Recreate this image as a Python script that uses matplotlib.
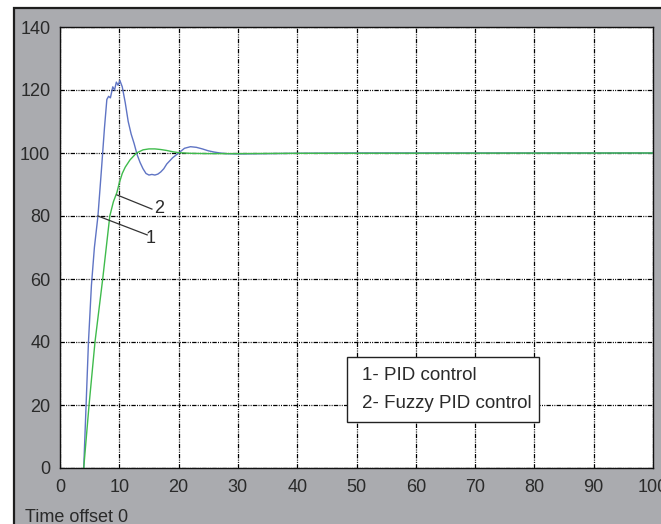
import numpy as np
import matplotlib
matplotlib.use("Agg")
import matplotlib.pyplot as plt
from matplotlib.patches import Rectangle

# Step response: time (s) and output value
pidTime = [4.0, 4.4, 4.8, 5.3, 5.8, 6.4, 7.0, 7.5, 7.9, 8.2, 8.5, 8.9, 9.2, 9.5,
           9.8, 10.1, 10.5, 11.0, 11.5, 12.0, 12.5, 13.0, 13.5, 14.0, 14.5, 15.0,
           15.5, 16.0, 16.5, 17.0, 17.5, 18.0, 18.5, 19.0, 20.0, 21.0, 22.0, 23.0,
           24.0, 25.0, 26.0, 27.0, 28.0, 30.0, 35.0, 40.0, 50.0, 100.0]
pidValue = [0, 20, 40, 58, 70, 80, 95, 108, 117, 118, 117.5, 121, 120, 122.5,
            121.5, 123, 121, 116, 110, 106, 103, 99.5, 97, 95, 93.5, 93,
            93.2, 93, 93.3, 94, 95, 96.5, 97.5, 98.5, 100, 101.5, 102, 101.8,
            101.3, 100.7, 100.3, 100, 99.8, 99.7, 99.8, 99.9, 100, 100]

fuzzyTime = [4.0, 4.9, 5.9, 7.2, 8.4, 9.0, 9.6, 10.0, 10.5, 11.0, 11.8, 12.9,
             14.0, 15.0, 16.0, 17.0, 18.0, 19.0, 20.0, 22.0, 25.0, 30.0, 40.0, 100.0]
fuzzyValue = [0, 20, 40, 60, 80, 84.5, 87.5, 90.5, 93.5, 95.5, 97.8, 100,
              101, 101.3, 101.3, 101.1, 100.8, 100.4, 100.1, 99.9, 99.8, 99.8, 99.9, 100]

xTicks = np.arange(0, 101, 10)
yTicks = np.arange(0, 141, 20)
legendLines = ["1- PID control", "2- Fuzzy PID control"]

plt.rcParams['font.family'] = ['Liberation Sans', 'DejaVu Sans']
plt.rcParams['font.size'] = 13

grey = '#aaabaf'
textColor = '#2a2a2a'

fig = plt.figure(figsize=(6.61, 5.24), dpi=100, facecolor='white')
fig.add_artist(Rectangle((14 / 661, -0.1), 1.0, 0.1 + (524 - 8) / 524,
                         transform=fig.transFigure, facecolor=grey,
                         edgecolor='#1e1e1e', linewidth=1.6, zorder=0))

ax = fig.add_axes([60 / 661, 56 / 524, 593 / 661, 441 / 524])
ax.set_facecolor('white')

ax.plot(pidTime, pidValue, color='#5f74c4', linewidth=1.0)
ax.plot(fuzzyTime, fuzzyValue, color='#3fbb4c', linewidth=1.0)

ax.set_xlim(0, 100)
ax.set_ylim(0, 140)
ax.set_xticks(xTicks)
ax.set_yticks(yTicks)
ax.tick_params(length=0, colors=textColor, labelsize=13)
ax.tick_params(axis='y', pad=7)
ax.tick_params(axis='x', pad=8)
ax.grid(True, color='black', linewidth=0.9, dashes=(3.5, 1.0, 0.8, 1.0, 0.8, 1.0))
for side in ax.spines.values():
    side.set_color('#111111')
    side.set_linewidth(1.0)

# curve labels
ax.plot([9.6, 15.5], [86.7, 82.2], color='#333333', linewidth=0.9)
ax.text(16.7, 82.5, "2", ha='center', va='center', color=textColor)
ax.plot([6.4, 14.7], [80, 74], color='#333333', linewidth=0.9)
ax.text(15.3, 72.7, "1", ha='center', va='center', color=textColor)

# legend box
ax.add_patch(Rectangle((48.4, 14.6), 32.4, 20.6, facecolor='white',
                       edgecolor='#222222', linewidth=1.0, zorder=3))
ax.text(50.9, 29.5, legendLines[0], ha='left', va='center', color=textColor,
        fontsize=13.5, zorder=4)
ax.text(50.9, 20.6, legendLines[1], ha='left', va='center', color=textColor,
        fontsize=13.5, zorder=4)

fig.text(25 / 661, 7 / 524, "Time offset 0", ha='left', va='center', color=textColor)

fig.savefig("out.png", dpi=100, facecolor=fig.get_facecolor())
